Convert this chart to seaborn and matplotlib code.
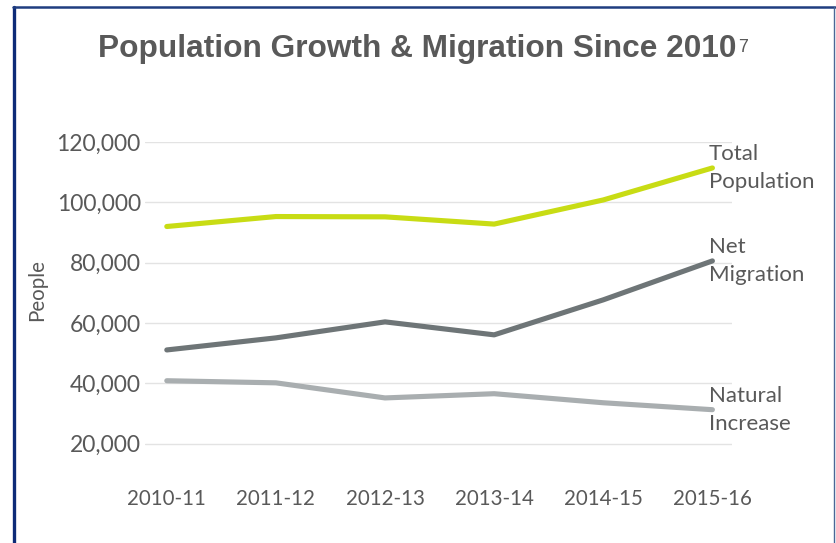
import matplotlib
matplotlib.use("Agg")
import matplotlib.pyplot as plt
import seaborn as sns
import pandas as pd
from matplotlib.lines import Line2D
from matplotlib.ticker import FuncFormatter

years = ["2010-11", "2011-12", "2012-13", "2013-14", "2014-15", "2015-16"]
total_population = [92000, 95300, 95200, 92800, 100800, 111400]
net_migration = [51100, 55100, 60400, 56100, 67700, 80600]
natural_increase = [40900, 40200, 35200, 36600, 33600, 31300]
series_names = ["Total\nPopulation", "Net\nMigration", "Natural\nIncrease"]
colours = ["#c8dc14", "#6e7577", "#a9aeb0"]

df = pd.DataFrame({
    "Year": years * 3,
    "People": total_population + net_migration + natural_increase,
    "Series": [s for s in series_names for _ in years],
})

sns.set_theme(style="white")
plt.rcParams['font.family'] = ['Lato', 'DejaVu Sans']
text_grey = "#595959"

fig = plt.figure(figsize=(8.37, 5.43), dpi=100)
ax = fig.add_axes([0.1732, 0.1271, 0.7014, 0.6114])

sns.lineplot(data=df, x="Year", y="People", hue="Series", palette=colours,
             linewidth=3.7, sort=False, legend=False, ax=ax,
             solid_capstyle="round")

ax.set_ylim(10000, 120000)
ax.set_xlim(-0.2, 5.18)
ax.set_yticks([20000, 40000, 60000, 80000, 100000, 120000])
ax.yaxis.set_major_formatter(FuncFormatter(lambda v, p: f"{int(v):,}"))
ax.grid(axis="y", color="#e3e3e3", linewidth=1)
ax.set_axisbelow(True)
for s in ax.spines.values():
    s.set_visible(False)
ax.tick_params(axis="y", labelsize=16.5, colors=text_grey, pad=3, length=0)
ax.tick_params(axis="x", labelsize=14.8, colors=text_grey, pad=11, length=0)
ax.set_xlabel("")
ax.set_ylabel("People", fontsize=14.8, color=text_grey)
ax.yaxis.set_label_coords(-0.166, 0.554)

# end-of-line labels
for name, vals in zip(series_names, [total_population, net_migration, natural_increase]):
    ax.text(4.965, vals[-1], name, ha="left", va="center", fontsize=16,
            color=text_grey, linespacing=1.5)

# title with superscript
title = fig.text(0.117, 0.909, "Population Growth & Migration Since 2010",
                 ha="left", va="center", fontsize=22.8, fontweight="bold",
                 color=text_grey, family="Liberation Sans")
fig.canvas.draw()
bb = title.get_window_extent().transformed(fig.transFigure.inverted())
fig.text(bb.x1 + 0.002, bb.y1 - 0.008, "7", ha="left", va="top", fontsize=13,
         color=text_grey, family="Liberation Sans")

# frame border
top = 1 - 7 / 543
fig.add_artist(Line2D([14 / 837, 14 / 837], [0, top], transform=fig.transFigure,
                      color="#0d2b78", linewidth=2.4))
fig.add_artist(Line2D([13 / 837, 835 / 837], [top, top], transform=fig.transFigure,
                      color="#1f3d80", linewidth=1.8))
fig.add_artist(Line2D([834.5 / 837, 834.5 / 837], [0, top], transform=fig.transFigure,
                      color="#4a6796", linewidth=1.0))

fig.savefig("out.png", dpi=100)
